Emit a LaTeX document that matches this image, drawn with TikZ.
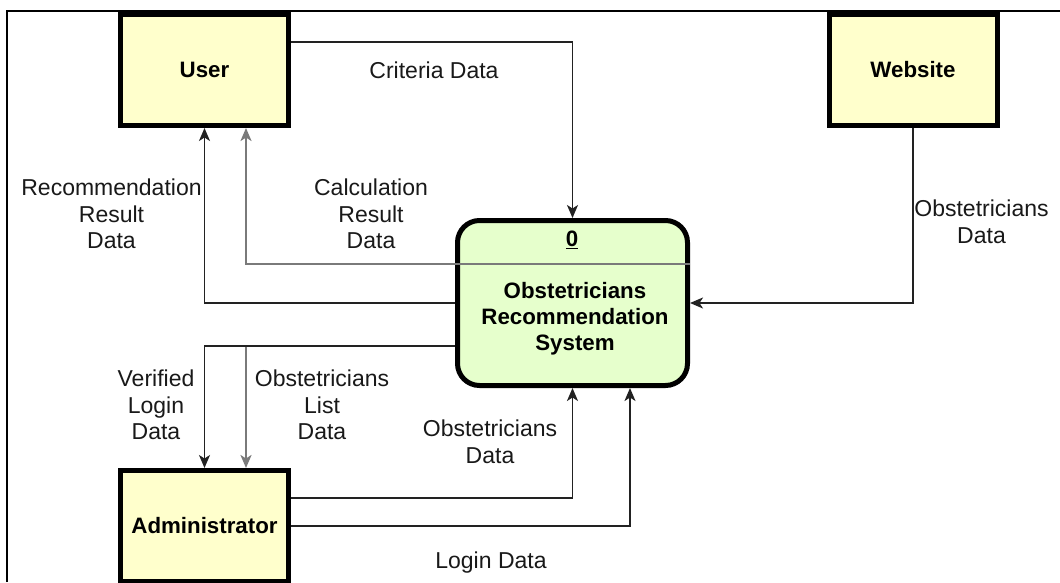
\documentclass[tikz,border=0pt]{standalone}
\usepackage{fontspec}
\setmainfont{Liberation Sans}
\usetikzlibrary{arrows.meta,calc}
\definecolor{entfill}{HTML}{FFFFCC}
\definecolor{procfill}{HTML}{E6FFCC}
\definecolor{linecol}{HTML}{222222}
\definecolor{graycol}{HTML}{7A7A7A}
\begin{document}
\begin{tikzpicture}[x=1pt,y=-1pt,
  ent/.style={draw=black, line width=5pt, fill=entfill, minimum width=168pt, minimum height=111pt, inner sep=0pt, font=\fontsize{22.3}{26}\selectfont\bfseries},
  proc/.style={draw=black, line width=5pt, fill=procfill, rounded corners=22pt, minimum width=230pt, minimum height=165pt, inner sep=0pt},
  ptext/.style={font=\fontsize{22.3}{26}\selectfont\bfseries, align=center, inner sep=0pt},
  tip/.style={-{Stealth[length=13pt,width=11pt,inset=3.5pt]}},
  flow/.style={draw=linecol, line width=1.5pt, tip},
  gflow/.style={draw=graycol, line width=2.2pt, tip},
  lbl/.style={font=\fontsize{23}{26.5}\selectfont, align=center, inner sep=0pt, text=black!90},
]
\useasboundingbox[fill=white] (0,0) rectangle (1060,582);
\draw[line width=1.5pt, black] (7,582) -- (7,11) -- (1060,11);

\node[ent] (user) at (204.5,70) {User};
\node[ent] (web) at (913,70) {Website};
\node[ent] (admin) at (204.5,526) {Administrator};
\node[proc] (sys) at (572.5,303) {};
\node[ptext] (sysnum) at (572,240) {\underline{0}};
\node[ptext] (systxt) at (575,319) {Obstetricians\\Recommendation\\System};

\draw[flow] ([yshift=28pt]user.east) -| (sys.north);
\draw[flow] (sys.west) -| (user.south);
\draw[gflow] ([yshift=39pt]sys.east) -| ([xshift=41.5pt]user.south);
\draw[flow] (web.south) |- (sys.east);
\draw[gflow] ([yshift=-43pt]sys.west) -| ([xshift=41.5pt]admin.north);
\draw[flow] ([yshift=-43pt]sys.west) -| (admin.north);
\draw[flow] ([yshift=28pt]admin.east) -| (sys.south);
\draw[flow] (admin.east) -| ([xshift=57.5pt]sys.south);

\node[lbl] (lcrit) at (434,70.5) {Criteria Data};
\node[lbl] (lrec) at (111.5,214) {Recommendation\\Result\\Data};
\node[lbl] (lcalc) at (371,214) {Calculation\\Result\\Data};
\node[lbl] (lweb) at (981.5,222) {Obstetricians\\Data};
\node[lbl] (lver) at (156,405) {Verified\\Login\\Data};
\node[lbl] (llist) at (322,405) {Obstetricians\\List\\Data};
\node[lbl] (lobs) at (490,442) {Obstetricians\\Data};
\node[lbl] (llog) at (491,563) {Login Data};
\end{tikzpicture}
\end{document}
